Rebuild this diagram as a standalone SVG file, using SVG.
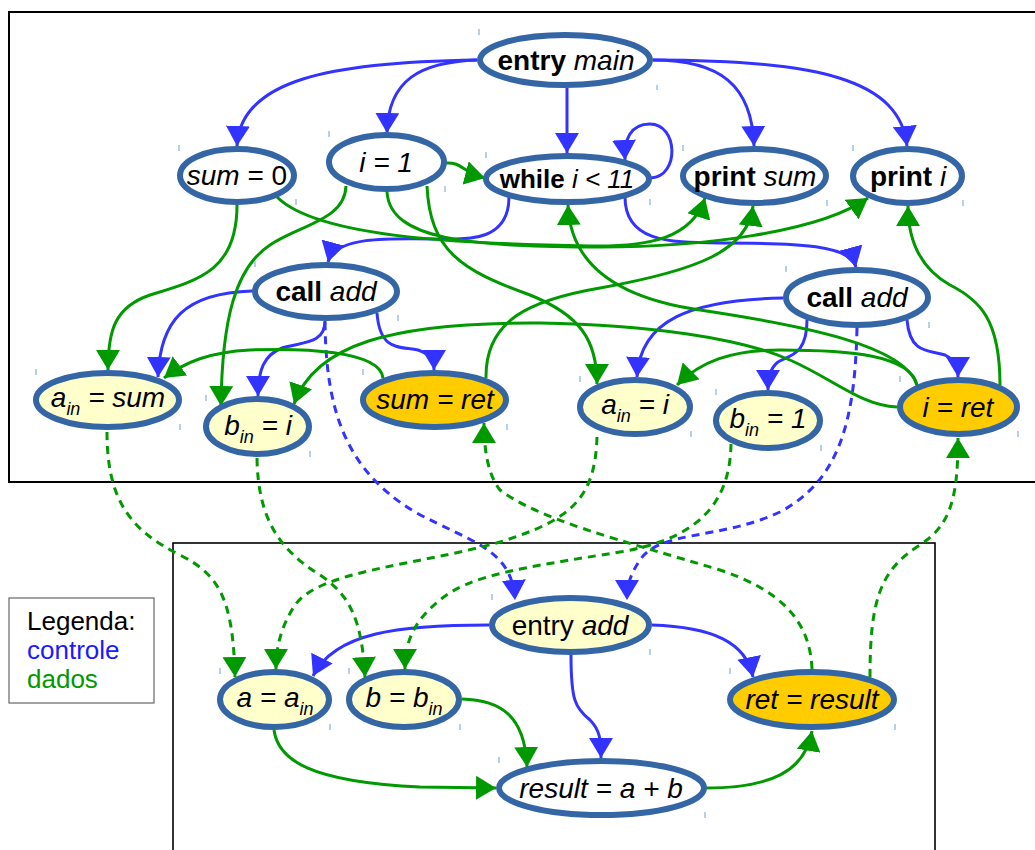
<svg xmlns="http://www.w3.org/2000/svg" width="1035" height="850" viewBox="0 0 1035 850">
<style>
.box{fill:none;stroke:#000;stroke-width:2}
.nd{stroke:#3465a4;stroke-width:6}
.w{fill:#fff}.y{fill:#ffffcc}.o{fill:#ffcc00}
.t{font-family:"Liberation Sans",Arial,sans-serif;font-size:28px;font-style:italic;fill:#000;text-anchor:middle}
.b{font-weight:bold;font-style:normal}
.n{font-style:normal}
.sub{font-size:18px}
.c{fill:none;stroke:#3333ff;stroke-width:3;marker-end:url(#ab)}
.d{fill:none;stroke:#009900;stroke-width:3;marker-end:url(#ag)}
.dash{stroke-dasharray:8,6}
.tk{stroke:#729fcf;stroke-width:1}
.lg{font-family:"Liberation Sans",Arial,sans-serif;font-size:26px}
</style>
<defs>
<marker id="ab" viewBox="0 0 20 24" refX="20" refY="12" markerWidth="20" markerHeight="24" markerUnits="userSpaceOnUse" orient="auto"><path d="M0,0 L20,12 L0,24 z" fill="#3333ff"/></marker>
<marker id="ag" viewBox="0 0 20 24" refX="20" refY="12" markerWidth="20" markerHeight="24" markerUnits="userSpaceOnUse" orient="auto"><path d="M0,0 L20,12 L0,24 z" fill="#009900"/></marker>
</defs>
<rect width="1035" height="850" fill="#fff"/>
<rect class="box" x="9" y="12" width="1040" height="470"/>
<rect x="173" y="543" width="762" height="320" fill="none" stroke="#000" stroke-width="1.6"/>
<g id="legend">
<rect x="9" y="598" width="145" height="105" fill="#fff" stroke="#666" stroke-width="1.2"/>
<text class="lg" x="27" y="630" fill="#000">Legenda:</text>
<text class="lg" x="27" y="659" fill="#1a1aff">controle</text>
<text class="lg" x="27" y="688" fill="#009900">dados</text>
</g>
<g id="connectors">
<path class="c" d="M477,60 C330,62 240,80 237,146"/>
<path class="c" d="M477,60 C420,62 388,80 387,133"/>
<path class="c" d="M567,88 L567,153"/>
<path class="c" d="M653,60 C720,60 752,85 754,146"/>
<path class="c" d="M653,60 C820,60 900,80 907,146"/>
<path class="c" d="M651,178 C680,176 678,124 650,124 C630,124 624,140 625,160"/>
<path class="c" d="M509,197 C509,240 470,240 440,239 C390,238 335,236 328,262"/>
<path class="c" d="M625,197 C625,240 665,243 720,243 C800,243 850,245 856,267"/>
<path class="c" d="M252,291 C185,293 160,320 158,377"/>
<path class="c" d="M325,321 C325,345 300,342 282,348 C264,355 258,370 258,396"/>
<path class="c" d="M377,313 C380,352 400,346 418,350 C430,354 434,360 434,370"/>
<path class="c dash" d="M325,322 C326,410 345,470 415,512 C470,542 512,548 515,600"/>
<path class="c" d="M783,298 C690,300 640,320 637,377"/>
<path class="c" d="M807,320 C807,355 790,355 778,362 C770,368 768,378 768,390"/>
<path class="c" d="M907,320 C910,355 930,350 945,355 C955,360 958,366 958,377"/>
<path class="c dash" d="M857,328 C855,420 840,480 780,512 C720,540 660,530 640,560 C630,575 627,585 627,600"/>
<path class="c" d="M489,625 C400,625 335,632 313,676"/>
<path class="c" d="M652,625 C712,627 746,642 753,677"/>
<path class="c" d="M571,655 C571,700 575,708 590,720 C600,730 601,740 601,758"/>
<path class="d" d="M446,163 C462,162 462,172 485,178"/>
<path class="d" d="M237,205 C237,270 200,280 150,295 C115,307 108,330 108,370"/>
<path class="d" d="M277,197 C320,240 480,244 590,246 C650,247 692,238 705,198"/>
<path class="d" d="M387,192 C390,240 470,246 590,247 C700,248 820,232 868,198"/>
<path class="d" d="M346,186 C345,220 300,225 270,245 C235,268 222,320 221,406"/>
<path class="d" d="M427,186 C430,250 460,270 530,295 C580,315 597,340 597,384"/>
<path class="d" d="M383,378 C380,350 300,348 250,350 C210,352 185,362 164,378"/>
<path class="d" d="M486,378 C485,320 530,300 600,288 C700,270 748,250 753,206"/>
<path class="d" d="M917,385 C905,345 800,325 700,310 C610,297 570,260 568,205"/>
<path class="d" d="M917,385 C910,355 850,350 780,350 C730,350 700,362 677,385"/>
<path class="d" d="M897,407 C860,405 835,380 790,360 C740,338 650,325 540,323 C390,322 315,345 294,404"/>
<path class="d" d="M1000,385 C1000,320 980,300 950,285 C920,268 908,240 908,206"/>
<path class="d dash" d="M107,432 C107,500 130,530 180,555 C220,575 233,600 235,677"/>
<path class="d dash" d="M257,458 C258,520 280,550 320,575 C350,595 362,620 365,677"/>
<path class="d dash" d="M597,437 C595,500 570,520 500,542 C420,565 320,570 295,605 C282,625 276,645 276,669"/>
<path class="d dash" d="M731,444 C730,510 690,540 620,552 C520,568 470,575 440,600 C415,620 405,640 405,669"/>
<path class="d dash" d="M812,669 C810,620 780,590 720,570 C620,540 540,520 500,490 C488,475 484,450 484,423"/>
<path class="d dash" d="M870,677 C870,600 880,570 920,545 C950,525 958,500 958,438"/>
<path class="d" d="M274,730 C278,760 310,782 420,787 L496,788"/>
<path class="d" d="M462,699 C500,700 525,715 527,767"/>
<path class="d" d="M705,788 C770,788 805,772 812,731"/>
</g>
<g id="n_entry_main"><ellipse class="nd w" cx="565" cy="60" rx="85" ry="25"/><text class="t" x="566" y="70"><tspan class="b">entry</tspan> main</text></g>
<g id="n_sum0"><ellipse class="nd w" cx="237" cy="175.5" rx="57" ry="26.5"/><text class="t" x="237" y="185">sum<tspan class="n"> = 0</tspan></text></g>
<g id="n_i1"><ellipse class="nd w" cx="386.5" cy="162" rx="57.5" ry="27"/><text class="t" x="386" y="172">i = 1</text></g>
<g id="n_while"><ellipse class="nd w" cx="567.5" cy="179" rx="81.5" ry="23"/><text class="t" x="567" y="188" style="font-size:26px"><tspan class="b">while</tspan> i &lt; 11</text></g>
<g id="n_print_sum"><ellipse class="nd w" cx="754.5" cy="176" rx="71.5" ry="27"/><text class="t" x="755" y="186"><tspan class="b">print</tspan> sum</text></g>
<g id="n_print_i"><ellipse class="nd w" cx="907.5" cy="176" rx="54.5" ry="27"/><text class="t" x="908" y="186"><tspan class="b">print</tspan> i</text></g>
<g id="n_call1"><ellipse class="nd w" cx="326" cy="291.5" rx="71" ry="26.5"/><text class="t" x="326" y="301"><tspan class="b">call</tspan> add</text></g>
<g id="n_call2"><ellipse class="nd w" cx="857" cy="297.5" rx="71" ry="27.5"/><text class="t" x="857" y="307"><tspan class="b">call</tspan> add</text></g>
<g id="n_ain_sum"><ellipse class="nd y" cx="107.5" cy="400" rx="71.5" ry="27"/><text class="t" x="108" y="407">a<tspan class="sub" dy="8">in</tspan><tspan dy="-8"> = sum</tspan></text></g>
<g id="n_bin_i"><ellipse class="nd y" cx="257.5" cy="426.5" rx="51.5" ry="27.5"/><text class="t" x="258" y="435">b<tspan class="sub" dy="8">in</tspan><tspan dy="-8"> = i</tspan></text></g>
<g id="n_sum_ret"><ellipse class="nd o" cx="434.5" cy="400" rx="71.5" ry="27"/><text class="t" x="435" y="409">sum = ret</text></g>
<g id="n_ain_i"><ellipse class="nd y" cx="635" cy="407" rx="55" ry="27"/><text class="t" x="635" y="414">a<tspan class="sub" dy="8">in</tspan><tspan dy="-8"> = i</tspan></text></g>
<g id="n_bin_1"><ellipse class="nd y" cx="768" cy="420.5" rx="52" ry="27.5"/><text class="t" x="768" y="428">b<tspan class="sub" dy="8">in</tspan><tspan dy="-8"> = 1</tspan></text></g>
<g id="n_i_ret"><ellipse class="nd o" cx="958.5" cy="407" rx="58.5" ry="27"/><text class="t" x="958" y="417">i = ret</text></g>
<g id="n_entry_add"><ellipse class="nd y" cx="570.5" cy="625" rx="78.5" ry="27"/><text class="t" x="570" y="635"><tspan class="n">entry</tspan> add</text></g>
<g id="n_a"><ellipse class="nd y" cx="274.5" cy="699.5" rx="54.5" ry="27.5"/><text class="t" x="275" y="707">a = a<tspan class="sub" dy="8">in</tspan></text></g>
<g id="n_b"><ellipse class="nd y" cx="404" cy="699.5" rx="55" ry="27.5"/><text class="t" x="404" y="707">b = b<tspan class="sub" dy="8">in</tspan></text></g>
<g id="n_ret_result"><ellipse class="nd o" cx="812" cy="699.5" rx="82" ry="27.5"/><text class="t" x="812" y="709">ret = result</text></g>
<g id="n_result"><ellipse class="nd w" cx="601.5" cy="788" rx="102.5" ry="27"/><text class="t" x="601" y="798">result = a + b</text></g>
<g id="ticks">
<path class="tk" d="M479,29v6M657,85v5M179,145v6M296,199v6M329,131v6M445,186v6M486,152v6M650,199v6M683,145v6M827,200v6M853,145v6M963,200v6M255,261v6M398,315v6M786,266v6M929,322v6M36,369v6M180,424v6M206,395v6M310,451v6M363,369v6M507,424v6M580,376v6M691,431v6M716,389v6M821,445v6M900,376v6M1018,431v6M492,594v6M650,649v6M220,668v6M330,724v6M349,668v6M460,724v6M730,668v6M895,724v6M499,757v6M705,812v6"/>
</g>
</svg>
